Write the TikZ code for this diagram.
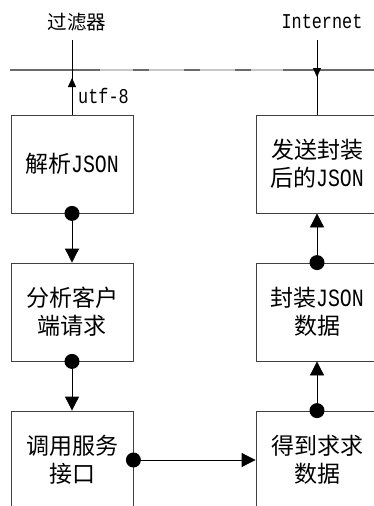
\documentclass[tikz,border=0pt]{standalone}
\usepackage{fontspec}
\setmainfont{Liberation Mono}[Scale=1.08, FakeStretch=0.8]
\newfontfamily\cjk{Noto Sans CJK SC}
\usetikzlibrary{arrows.meta}
\tikzset{
  procbox/.style={draw=black!75, line width=0.8pt, minimum width=122pt, minimum height=98pt,
    inner sep=0pt, align=center, font=\fontsize{23pt}{28pt}\selectfont},
  toplabel/.style={inner sep=0pt, font=\fontsize{19.5pt}{22pt}\selectfont},
  flow/.style={draw=black, line width=0.8pt, -{Triangle[length=14pt,width=14pt]}},
  smallflow/.style={draw=black, line width=0.8pt, -{Triangle[length=9pt,width=8pt]}},
  plain/.style={draw=black, line width=0.8pt},
  dotc/.style={fill=black}
}
\begin{document}
\begin{tikzpicture}[x=1pt,y=-1pt]
\useasboundingbox (0,0) rectangle (374,506);
\clip (0,0) rectangle (374,506);
% top divider
\coordinate (lineL) at (10,70);
\coordinate (lineR) at (374,70);
\draw[line width=1.4pt, black!22] (lineL) -- (lineR);
\draw[line width=1.4pt, black!58, dash pattern=on 90pt off 33pt on 16pt off 35pt on 16pt off 35pt on 16pt off 32pt on 200pt] (lineL) -- (lineR);
% boxes
\node[procbox] (b1) at (72,164) {{\cjk 解析}JSON};
\node[procbox] (b2) at (72,312) {{\cjk 分析客户}\\{\cjk 端请求}};
\node[procbox] (b3) at (72,460) {{\cjk 调用服务}\\{\cjk 接口}};
\node[procbox] (r1) at (317,164) {{\cjk 发送封装}\\{\cjk 后的}JSON};
\node[procbox] (r2) at (317,312) {{\cjk 封装}JSON\\{\cjk 数据}};
\node[procbox] (r3) at (317,460) {{\cjk 得到求求}\\{\cjk 数据}};
% top labels
\node[toplabel] (filt) at (77,22) {\cjk 过滤器};
\node[toplabel] (inet) at (322,22) {Internet};
\node[toplabel, anchor=west] (utf) at (78,96) {utf-8};
\coordinate (filtTop) at (72,40);
\coordinate (filtTip) at (72,78);
\coordinate (inetTop) at (317,40);
\coordinate (inetTip) at (317,77);
% top connectors
\draw[plain] (b1.north) -- (filtTop);
\draw[smallflow] (b1.north) -- (filtTip);
\draw[plain] (inetTop) -- (r1.north);
\draw[smallflow] (inetTop) -- (inetTip);
% flow connectors
\draw[flow] (b1.south) -- (b2.north);
\draw[flow] (b2.south) -- (b3.north);
\draw[flow] (b3.east) -- (r3.west);
\draw[flow] (r3.north) -- (r2.south);
\draw[flow] (r2.north) -- (r1.south);
% dots
\fill[dotc] (b1.south) circle (7.5pt);
\fill[dotc] (b2.south) circle (7.5pt);
\fill[dotc] (b3.east) circle (7.5pt);
\fill[dotc] (r3.north) circle (7.5pt);
\fill[dotc] (r2.north) circle (7.5pt);
\end{tikzpicture}
\end{document}
